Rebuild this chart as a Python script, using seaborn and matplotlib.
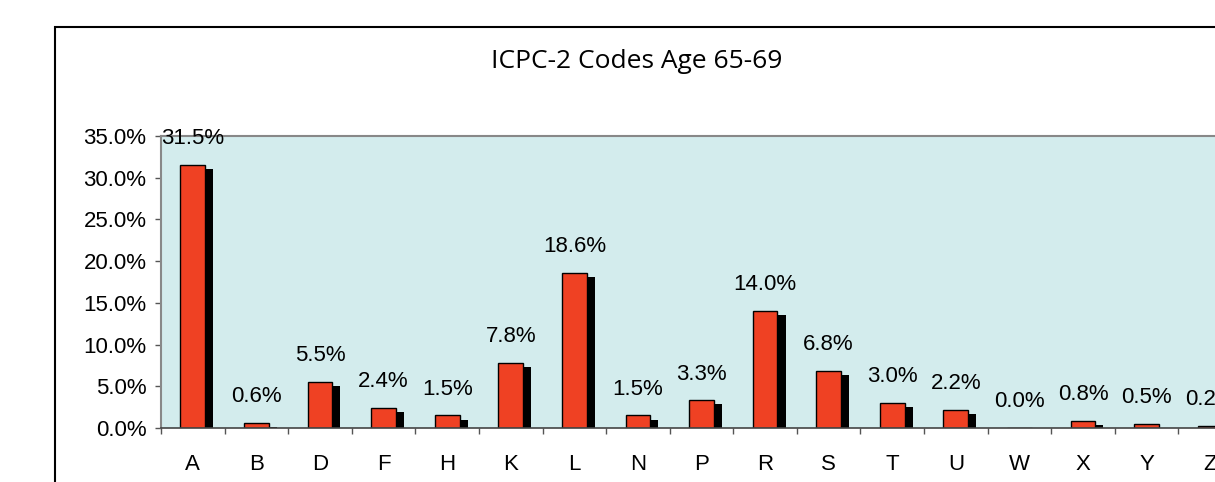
import numpy as np
import pandas as pd
import matplotlib
matplotlib.use('Agg')
import matplotlib.pyplot as plt
import matplotlib.patheffects as pe
from matplotlib.patches import Rectangle
from matplotlib.ticker import FixedLocator, FuncFormatter
import seaborn as sns

# data
codes = ['A', 'B', 'D', 'F', 'H', 'K', 'L', 'N', 'P', 'R', 'S', 'T', 'U', 'W', 'X', 'Y', 'Z']
pct = [31.5, 0.6, 5.5, 2.4, 1.5, 7.8, 18.6, 1.5, 3.3, 14.0, 6.8, 3.0, 2.2, 0.0, 0.8, 0.5, 0.2]
y_ticks = [0, 5, 10, 15, 20, 25, 30, 35]
title = 'ICPC-2 Codes Age 65-69'

df = pd.DataFrame({'code': codes, 'pct': pct})

sns.set_style('white')
plt.rcParams['font.family'] = ['Liberation Sans', 'DejaVu Sans']
plt.rcParams['text.color'] = 'black'
plt.rcParams['xtick.labelcolor'] = 'black'
plt.rcParams['ytick.labelcolor'] = 'black'

fig = plt.figure(figsize=(12.15, 4.82), dpi=100)

# outer chart frame (runs off the right and bottom edge)
fig.patches.append(Rectangle((55 / 1215, -0.1), 1.2, 1 - 27 / 482 + 0.1,
                             transform=fig.transFigure, fill=False,
                             edgecolor='black', linewidth=1.5, zorder=0))

ax = fig.add_axes([161 / 1215, 54 / 482, 1081 / 1215, 292 / 482])
ax.set_facecolor('#D3ECED')

sns.barplot(data=df, x='code', y='pct', color='#EF4123', width=0.39,
            edgecolor='black', linewidth=1.0, saturation=1, ax=ax)

# drop shadow behind each bar
for bar in ax.patches:
    bar.set_path_effects([
        pe.SimplePatchShadow(offset=(5.8, -2.9), shadow_rgbFace='black', alpha=1),
        pe.Normal()])

# value labels
for i, v in enumerate(pct):
    ax.text(i, v + 1.9, f'{v:.1f}%', ha='center', va='bottom',
            fontsize=16, clip_on=False)

ax.set_xlim(-0.5, len(codes) - 0.5)
ax.set_ylim(0, 35)
ax.yaxis.set_major_locator(FixedLocator(y_ticks))
ax.yaxis.set_major_formatter(FuncFormatter(lambda v, p: f'{v:.1f}%'))
ax.set_xticks(range(len(codes)))
ax.set_xticklabels(codes)
ax.set_xticks(np.arange(-0.5, len(codes), 1), minor=True)
ax.tick_params(axis='x', which='major', length=0, pad=19, labelsize=16)
ax.tick_params(axis='x', which='minor', length=4.5, width=1, color='#555555', direction='out', bottom=True)
ax.tick_params(axis='y', length=4.5, width=1, color='#555555', direction='out', left=True, labelsize=16, pad=6)
ax.set_xlabel('')
ax.set_ylabel('')

for side in ['left', 'top']:
    ax.spines[side].set_color('#888888')
    ax.spines[side].set_linewidth(1.5)
ax.spines['bottom'].set_color('#444444')
ax.spines['bottom'].set_linewidth(1.2)
ax.spines['right'].set_visible(False)

fig.text(637 / 1215, 1 - 62 / 482, title, ha='center', va='center',
         fontsize=19, family=['Open Sans', 'DejaVu Sans'])

fig.savefig('out.png', dpi=100)
